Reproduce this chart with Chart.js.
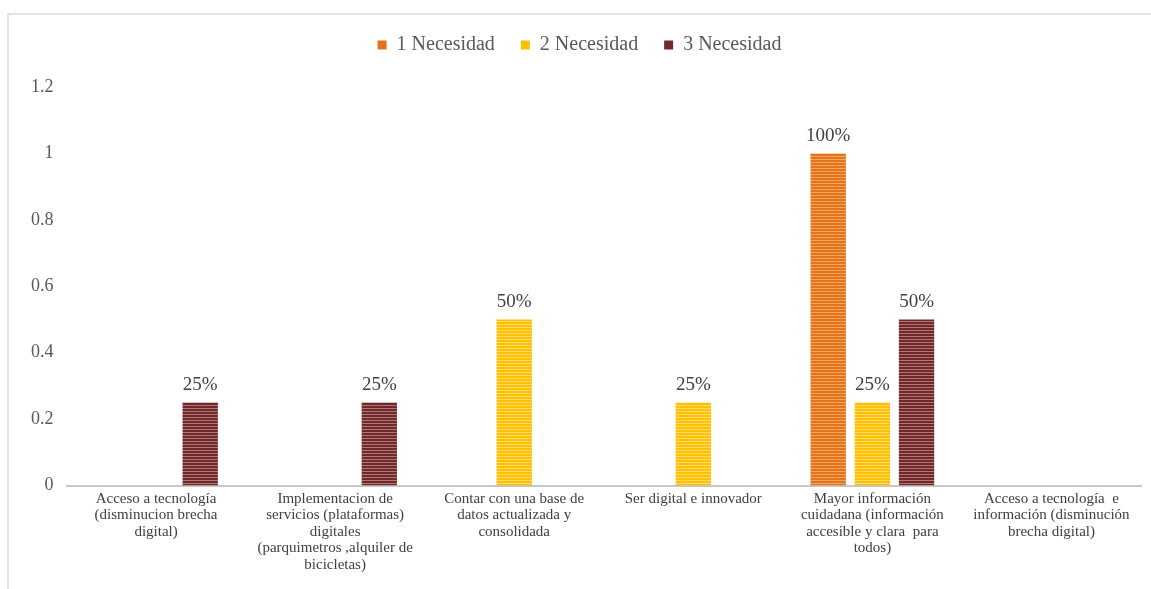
<!DOCTYPE html>
<html>
<head>
<meta charset="utf-8">
<script src="https://cdn.jsdelivr.net/npm/chart.js@4/dist/chart.umd.min.js"></script>
<style>
  html, body { margin: 0; padding: 0; background: #fff; }
  #wrap { position: absolute; left: 0; top: 0; width: 1151px; height: 589px; }
  #frame { position: absolute; left: 7px; top: 13px; width: 1144px; height: 576px;
           border-left: 2px solid #e3e3e3; border-top: 2px solid #e3e3e3; box-sizing: border-box; }
</style>
</head>
<body>
<div id="frame"></div>
<div id="wrap"><canvas id="c" width="1151" height="589"></canvas></div>
<script>
const categories = [
  ["Acceso a tecnología", "(disminucion brecha", "digital)"],
  ["Implementacion de", "servicios (plataformas)", "digitales", "(parquimetros ,alquiler de", "bicicletas)"],
  ["Contar con una base de", "datos actualizada y", "consolidada"],
  ["Ser digital e innovador"],
  ["Mayor información", "cuidadana (información", "accesible y clara  para", "todos)"],
  ["Acceso a tecnología  e", "información (disminución", "brecha digital)"]
];
const seriesNames = ["1 Necesidad", "2 Necesidad", "3 Necesidad"];
const necesidad1 = [0, 0, 0, 0, 1, 0];
const necesidad2 = [0, 0, 0.5, 0.25, 0.25, 0];
const necesidad3 = [0.25, 0.25, 0, 0, 0.5, 0];
const yTicks = [0, 0.2, 0.4, 0.6, 0.8, 1, 1.2];

const baseColors = ["#E5731A", "#FFC000", "#6E2A2A"];
const lightColors = ["#F4A65E", "#FFDB6E", "#B57575"];

function stripe(base, light) {
  const p = document.createElement("canvas");
  p.width = 4; p.height = 3;
  const g = p.getContext("2d");
  g.fillStyle = base; g.fillRect(0, 0, 4, 3);
  g.fillStyle = light; g.fillRect(0, 0, 4, 1);
  return g.createPattern(p, "repeat");
}
const ctx = document.getElementById("c").getContext("2d");
const patterns = baseColors.map((b, i) => stripe(b, lightColors[i]));

const FONT = "'Liberation Serif', 'DejaVu Serif', serif";

const labelPlugin = {
  id: "valLabels",
  afterDatasetsDraw(chart) {
    const c = chart.ctx;
    c.save();
    c.font = "19px " + FONT;
    c.fillStyle = "#404040";
    c.textAlign = "center";
    c.textBaseline = "bottom";
    chart.data.datasets.forEach((ds, di) => {
      const meta = chart.getDatasetMeta(di);
      meta.data.forEach((bar, i) => {
        const v = ds.data[i];
        if (v > 0) c.fillText(Math.round(v * 100) + "%", bar.x, bar.y - 8);
      });
    });
    c.restore();
  }
};

const legendSpace = {
  id: "legendSpace",
  beforeInit(chart) {
    const orig = chart.legend.fit;
    chart.legend.fit = function () { orig.call(this); this.height += 22; };
  }
};

new Chart(ctx, {
  type: "bar",
  data: {
    labels: categories,
    datasets: [necesidad1, necesidad2, necesidad3].map((d, i) => ({
      label: seriesNames[i],
      data: d,
      backgroundColor: patterns[i],
      borderWidth: 0,
      categoryPercentage: 0.74,
      barPercentage: 0.8
    }))
  },
  options: {
    responsive: false,
    animation: false,
    layout: { padding: { left: 18, right: 10, top: 9, bottom: 11 } },
    plugins: {
      legend: {
        position: "top",
        labels: {
          font: { family: FONT, size: 20 },
          color: "#595959",
          boxWidth: 9,
          boxHeight: 9,
          padding: 26,
          generateLabels(chart) {
            return chart.data.datasets.map((ds, i) => ({
              text: ds.label, fillStyle: baseColors[i], strokeStyle: baseColors[i],
              lineWidth: 0, datasetIndex: i, hidden: false, fontColor: "#595959"
            }));
          }
        }
      },
      tooltip: { enabled: false }
    },
    scales: {
      x: {
        grid: { display: false, drawTicks: false },
        border: { display: true, color: "#C8C8C8", width: 2 },
        ticks: { font: { family: FONT, size: 15, lineHeight: 1.1 }, color: "#404040",
                 maxRotation: 0, autoSkip: false, padding: 5 }
      },
      y: {
        min: 0, max: 1.2,
        afterBuildTicks(axis) { axis.ticks = yTicks.map(v => ({ value: v })); },
        grid: { display: false, drawTicks: false },
        border: { display: false },
        ticks: { font: { family: FONT, size: 18 }, color: "#595959", padding: 13,
                 callback: v => String(v) }
      }
    }
  },
  plugins: [labelPlugin, legendSpace]
});
</script>
</body>
</html>
